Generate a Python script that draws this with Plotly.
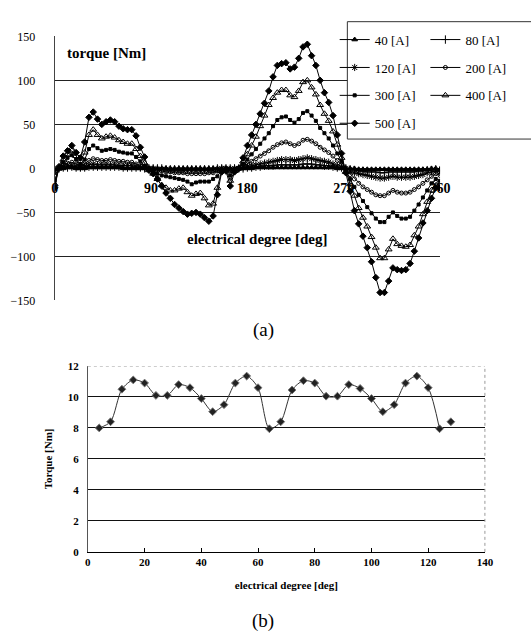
import plotly.graph_objects as go

# ---------------- data: chart (a) ----------------
degrees = [0, 4, 8, 12, 16, 20, 24, 28, 32, 36,
           40, 44, 48, 52, 56, 60, 64, 68, 72, 76,
           80, 84, 88, 92, 96, 100, 104, 108, 112, 116,
           120, 124, 128, 132, 136, 140, 144, 148, 152, 156,
           160, 164, 168, 172, 176, 180, 184, 188, 192, 196,
           200, 204, 208, 212, 216, 220, 224, 228, 232, 236,
           240, 244, 248, 252, 256, 260, 264, 268, 272, 276,
           280, 284, 288, 292, 296, 300, 304, 308, 312, 316,
           320, 324, 328, 332, 336, 340, 344, 348, 352, 356,
           360]

t40 = [-1, 0, 0, 1, 1, 0, 0, 0, 1, 1,
       1, 1, 1, 1, 1, 1, 0, 0, 0, 0,
       0, 0, 0, 0, 0, 0, 0, 0, 0, 0,
       0, 0, 0, 0, 0, 0, 0, 0, 0, 0,
       0, 0, 0, 0, 0, 0, 0, 1, 1, 1,
       1, 1, 1, 1, 1, 1, 1, 1, 1, 1,
       1, 1, 1, 1, 1, 1, 0, 0, 0, 0,
       0, -1, -1, -1, -1, -1, -1, -1, -1, -1,
       -1, -1, -1, -1, -1, -1, -1, -1, 0, 0,
       -1]

t80 = [-2, 0, 1, 1, 2, 1, 1, 1, 2, 2,
       2, 2, 2, 2, 2, 2, 1, 1, 1, 1,
       1, 0, 0, 0, 0, 0, -1, -1, -1, -1,
       -1, -1, -1, -1, -1, -1, -1, -1, 0, 0,
       0, 0, 0, 0, 0, 1, 1, 2, 2, 3,
       3, 3, 4, 4, 4, 4, 4, 4, 5, 5,
       5, 4, 4, 3, 3, 2, 1, 1, 0, -1,
       -2, -3, -3, -4, -4, -4, -5, -5, -4, -4,
       -4, -4, -4, -4, -4, -3, -3, -2, -2, -1,
       -2]

t120 = [-4, 0, 2, 3, 3, 2, 1, 2, 4, 5,
        4, 4, 4, 4, 4, 3, 3, 3, 3, 2,
        1, 1, 0, 0, -1, -1, -1, -2, -2, -2,
        -2, -2, -2, -2, -2, -2, -2, -2, -1, 0,
        0, -1, 0, 0, 1, 2, 3, 4, 5, 6,
        7, 8, 9, 10, 10, 10, 9, 10, 11, 12,
        11, 10, 9, 8, 7, 5, 3, 1, 0, -3,
        -5, -6, -7, -8, -9, -10, -11, -11, -10, -9,
        -10, -10, -10, -10, -9, -8, -7, -5, -4, -3,
        -4]

t200 = [-8, 0, 4, 6, 7, 5, 3, 5, 9, 11,
        10, 9, 9, 10, 9, 8, 8, 7, 7, 5,
        3, 1, 0, -1, -2, -3, -4, -4, -5, -5,
        -5, -6, -6, -6, -6, -6, -5, -5, -3, -1,
        0, -3, -1, 0, 2, 5, 8, 11, 14, 17,
        20, 24, 27, 29, 30, 28, 26, 28, 32, 33,
        31, 28, 24, 21, 18, 14, 9, 4, -1, -7,
        -12, -17, -21, -24, -27, -30, -31, -31, -28, -25,
        -27, -28, -28, -27, -24, -21, -17, -13, -9, -6,
        -8]

t300 = [-14, 0, 7, 12, 15, 10, 5, 10, 22, 26,
        23, 20, 21, 22, 21, 19, 18, 17, 17, 13,
        8, 3, -1, -3, -6, -8, -9, -10, -11, -12,
        -13, -15, -18, -16, -15, -15, -15, -12, -9, -2,
        -1, -8, -2, 0, 5, 10, 16, 22, 28, 34,
        40, 48, 55, 58, 59, 55, 52, 56, 63, 65,
        60, 54, 46, 40, 34, 26, 17, 8, -3, -12,
        -21, -30, -37, -44, -51, -57, -61, -61, -55, -50,
        -54, -57, -57, -55, -48, -41, -33, -25, -17, -12,
        -14]

t400 = [-18, 0, 10, 16, 20, 14, 8, 18, 38, 44,
        38, 34, 36, 37, 35, 32, 30, 28, 28, 22,
        14, 6, -2, -6, -12, -19, -22, -25, -25, -23,
        -22, -27, -31, -29, -28, -34, -42, -40, -22, -3,
        -2, -14, -3, 0, 8, 16, 26, 36, 48, 60,
        72, 80, 86, 89, 89, 83, 81, 88, 98, 100,
        92, 84, 72, 62, 54, 42, 27, 12, -4, -18,
        -31, -45, -56, -66, -78, -90, -102, -102, -92, -80,
        -86, -88, -89, -87, -76, -66, -52, -38, -25, -16,
        -18]

t500 = [-22, 2, 14, 20, 26, 18, 12, 30, 58, 64,
        56, 50, 53, 55, 53, 48, 45, 44, 44, 37,
        24, 13, -2, -6, -12, -20, -28, -34, -41, -45,
        -49, -52, -51, -50, -52, -56, -60, -54, -30, -4,
        -3, -20, -4, 0, 12, 26, 38, 50, 62, 74,
        88, 104, 117, 119, 120, 113, 115, 125, 138, 141,
        128, 117, 100, 86, 75, 60, 38, 17, -5, -26,
        -48, -63, -77, -90, -106, -124, -141, -141, -128, -113,
        -115, -116, -115, -108, -94, -79, -62, -48, -34, -22,
        -22]

series_names = ["40 [A]", "80 [A]", "120 [A]", "200 [A]", "300 [A]", "400 [A]", "500 [A]"]
series_values = [t40, t80, t120, t200, t300, t400, t500]
a_xticks = [0, 90, 180, 270, 360]
a_yticks = [-150, -100, -50, 0, 50, 100, 150]

# ---------------- data: chart (b) ----------------
b_degrees = [4, 8, 12, 16, 20, 24, 28, 32, 36, 40, 44, 48, 52, 56, 60, 64,
             68, 72, 76, 80, 84, 88, 92, 96, 100, 104, 108, 112, 116, 120, 124, 128]
b_torque = [8.0, 8.4, 10.5, 11.1, 10.9, 10.1, 10.1, 10.8, 10.6, 9.9, 9.05, 9.5, 10.9, 11.35, 10.6,
            7.95, 8.4, 10.45, 11.05, 10.9, 10.05, 10.05, 10.8, 10.55, 9.9, 9.05, 9.5, 10.9, 11.35, 10.6,
            7.95, 8.4]
b_xticks = [0, 20, 40, 60, 80, 100, 120, 140]
b_yticks = [0, 2, 4, 6, 8, 10, 12]

# ---------------- styling ----------------
W, H = 531, 642
SERIF = "Times New Roman, Liberation Serif, serif"

def px_x(p):
    return p / W

def px_y(p):
    return 1 - p / H

marker_styles = [
    dict(symbol="triangle-up", size=5, color="black", line=dict(color="black", width=1)),
    dict(symbol="cross-thin", size=6, color="black", line=dict(color="black", width=1)),
    dict(symbol="asterisk", size=6, color="black", line=dict(color="black", width=1)),
    dict(symbol="circle-open", size=4, color="black", line=dict(color="black", width=1)),
    dict(symbol="square", size=3, color="black", line=dict(color="black", width=1)),
    dict(symbol="triangle-up-open", size=6, color="black", line=dict(color="black", width=1)),
    dict(symbol="diamond", size=5, color="black", line=dict(color="black", width=1)),
]
legend_ids = ["legend", "legend2", "legend", "legend2", "legend", "legend2", "legend"]

fig = go.Figure()

for i, (name, vals) in enumerate(zip(series_names, series_values)):
    fig.add_trace(go.Scatter(
        x=degrees, y=vals, name=name, mode="lines+markers",
        line=dict(color="black", width=1),
        marker=marker_styles[i],
        xaxis="x", yaxis="y",
        legend=legend_ids[i], legendgroup=name,
    ))

b_marker = dict(symbol="diamond", size=6, color="#222222", line=dict(color="#777777", width=1))
fig.add_trace(go.Scatter(
    x=b_degrees[:31], y=b_torque[:31], mode="lines+markers",
    line=dict(color="#333333", width=1, shape="spline", smoothing=0.8),
    marker=b_marker, xaxis="x2", yaxis="y2", showlegend=False,
))
fig.add_trace(go.Scatter(
    x=b_degrees[31:], y=b_torque[31:], mode="markers",
    marker=b_marker, xaxis="x2", yaxis="y2", showlegend=False,
))

top_dom = [px_y(300), px_y(30)]
zero_pos = (top_dom[0] + top_dom[1]) / 2

fig.update_layout(
    width=W, height=H,
    margin=dict(l=0, r=0, t=0, b=0),
    paper_bgcolor="white", plot_bgcolor="white",
    font=dict(family=SERIF, color="black"),
    xaxis=dict(
        domain=[px_x(53), px_x(448)], range=[0, 360],
        tickvals=a_xticks, ticks="", showgrid=False, zeroline=False, showline=False,
        anchor="free", position=zero_pos,
        tickfont=dict(family=SERIF, size=14, weight="bold", color="black"),
        ticklabelstandoff=10,
    ),
    yaxis=dict(
        domain=top_dom, range=[-150, 150],
        tickvals=a_yticks, ticks="", showgrid=True, gridcolor="#222222", gridwidth=1,
        zeroline=False, showline=True, linecolor="#444444", linewidth=1,
        anchor="x",
        tickfont=dict(family=SERIF, size=12, color="black"),
        ticklabelstandoff=16,
    ),
    xaxis2=dict(
        domain=[px_x(87), px_x(494)], range=[0, 140],
        tickvals=b_xticks, ticks="inside", ticklen=4, tickcolor="black",
        showgrid=False, zeroline=False, showline=True, linecolor="black", linewidth=1,
        anchor="y2",
        tickfont=dict(family=SERIF, size=11, weight="bold", color="black"),
        title=dict(text="electrical degree [deg]", standoff=14,
                   font=dict(family=SERIF, size=11, weight="bold", color="black")),
    ),
    yaxis2=dict(
        domain=[px_y(557), px_y(367)], range=[0, 12],
        tickvals=b_yticks, ticks="", showgrid=True, gridcolor="#111111", gridwidth=1,
        zeroline=False, showline=True, linecolor="#555555", linewidth=1,
        anchor="x2",
        tickfont=dict(family=SERIF, size=11, weight="bold", color="black"),
        ticklabelstandoff=6,
        title=dict(text="Torque [Nm]", standoff=12,
                   font=dict(family=SERIF, size=11, weight="bold", color="black")),
    ),
    legend=dict(
        x=px_x(340), y=px_y(18), xanchor="left", yanchor="top",
        font=dict(family=SERIF, size=13, color="black"),
        bgcolor="rgba(0,0,0,0)", borderwidth=0, tracegroupgap=8, itemwidth=30,
    ),
    legend2=dict(
        x=px_x(433), y=px_y(18), xanchor="left", yanchor="top",
        font=dict(family=SERIF, size=13, color="black"),
        bgcolor="rgba(0,0,0,0)", borderwidth=0, tracegroupgap=8, itemwidth=30,
    ),
    showlegend=True,
)

shapes = [
    # legend box
    dict(type="rect", xref="paper", yref="paper", x0=px_x(353), x1=px_x(545),
         y0=px_y(135), y1=px_y(15), line=dict(color="#333333", width=1),
         fillcolor="white", layer="above"),
    # top border of chart (b): dotted gray
    dict(type="line", xref="x2 domain", yref="y2", x0=0, x1=1, y0=12, y1=12,
         line=dict(color="white", width=2), layer="above"),
    dict(type="line", xref="x2 domain", yref="y2", x0=0, x1=1, y0=12, y1=12,
         line=dict(color="#999999", width=1, dash="dot"), layer="above"),
    # right border of chart (b)
    dict(type="line", xref="x2 domain", yref="y2 domain", x0=1, x1=1, y0=0, y1=1,
         line=dict(color="#999999", width=1, dash="dot"), layer="above"),
]
fig.update_layout(shapes=shapes)

annotations = [
    dict(text="torque [Nm]", xref="paper", yref="paper", x=px_x(64), y=px_y(47),
         xanchor="left", yanchor="middle", showarrow=False,
         font=dict(family=SERIF, size=15, weight="bold", color="black")),
    dict(text="electrical degree [deg]", xref="paper", yref="paper", x=px_x(187), y=px_y(237),
         xanchor="left", yanchor="middle", showarrow=False,
         font=dict(family=SERIF, size=15, weight="bold", color="black")),
    dict(text="(a)", xref="paper", yref="paper", x=px_x(267), y=px_y(330),
         xanchor="center", yanchor="middle", showarrow=False,
         font=dict(family=SERIF, size=19, color="black")),
    dict(text="(b)", xref="paper", yref="paper", x=px_x(267), y=px_y(628),
         xanchor="center", yanchor="middle", showarrow=False,
         font=dict(family=SERIF, size=19, color="black")),
]
fig.update_layout(annotations=annotations)

fig.write_html(
    "out.html",
    config={"displayModeBar": False},
    post_script="document.body.style.margin='0';document.body.style.overflow='hidden';",
)
